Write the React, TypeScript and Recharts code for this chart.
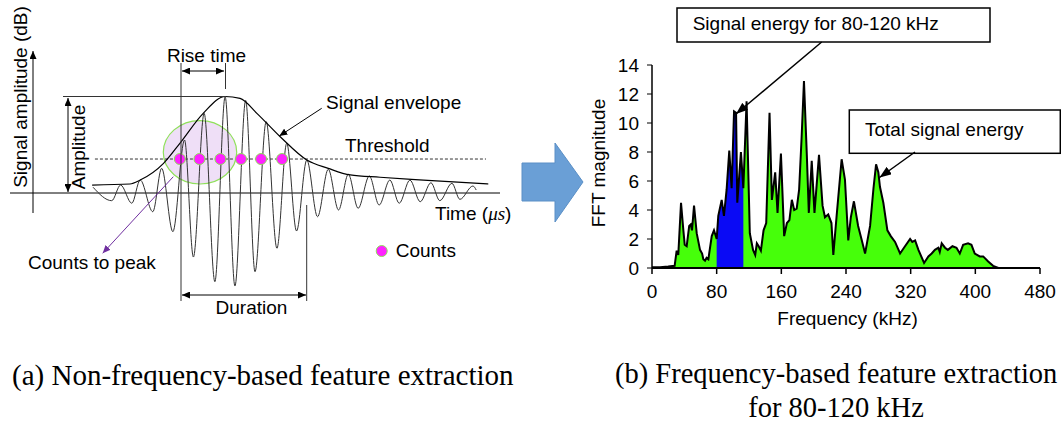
import React from "react";
import {
  ComposedChart,
  Line,
  Area,
  Scatter,
  XAxis,
  YAxis,
  ReferenceLine,
} from "recharts";

const FONT = "'Liberation Sans', Arial, sans-serif";
const SERIF = "'Liberation Serif', 'Times New Roman', serif";

// (a) burst waveform, one value per crest / trough
const waveTime = [
  12.8, 16.8, 18.7, 21.1, 22.9, 25.6, 27.5, 29.9, 32.4, 34.3, 36.6, 38.9, 41.1,
  43.2, 45.5, 47.5, 49.9, 52.2, 54.3, 56.4, 58.6, 60.9, 63.2, 65.4, 67.5, 69.6,
  72.0, 74.1, 76.4, 78.4, 80.7, 82.9, 85.2, 87.1, 89.7, 91.4, 94.2, 94.9,
];
const waveAmp = [
  6, -8, 8.3, -10.7, 13.5, -19.5, 25.7, -40.3, 55.2, -66.7, 83, -92.4, 100.3,
  -96.9, 96.4, -82, 74.3, -57.6, 51.8, -39.6, 34.4, -24.7, 24.7, -17.7, 19.5,
  -15.9, 17.7, -12.5, 13.5, -10.7, 13.5, -9.1, 10.7, -8, 10.1, -6.6, 7.3, 3.1,
];

// signal envelope
const envTime = [12.6, 20.7, 22.9, 27.9, 31.4, 36.4, 41.1, 44.3, 47.9, 52.9, 58.6, 63.2, 67.9, 74.3, 83.6, 97.5];
const envAmp = [8.3, 9.4, 13.5, 30.9, 51.8, 83, 100.5, 98.6, 83, 58.6, 34.4, 25.7, 18.8, 16.4, 13.5, 9.4];

const threshold = 35.4;
const countTime = [31.4, 35.6, 40.1, 44.5, 48.8, 53.3];

// (b) FFT spectrum
const freq = [
  0, 10, 20, 28, 30.5, 32.5, 35.9, 38.8, 40.5, 42.9,
  46, 47.9, 49.5, 52, 55.3, 59.4, 62, 63.5, 65.6, 67.5,
  69.7, 73.9, 76.7, 80, 82, 86.2, 89, 92.3, 95.6, 98.5,
  101.5, 104, 105.5, 110, 113, 117, 121, 125, 127.7, 129.7,
  132, 134.7, 138, 141.3, 145.4, 148.3, 152.4, 155.3, 159.5, 163.5,
  166.9, 170, 173, 175.9, 179, 182, 185, 188, 191.6, 194,
  197.6, 201, 206.6, 211, 214, 218, 222, 224.3, 228.4, 234.6,
  238.7, 242.8, 246, 249.8, 255, 259.6, 263.6, 269.8, 274, 277.2,
  280, 282, 286.2, 291.2, 295.4, 300.7, 306.9, 313, 319.3, 322,
  325.5, 329.6, 336.6, 341.9, 346, 350, 354.2, 356, 358.4, 362.5,
  366, 371.7, 376.7, 380.8, 384.9, 391, 395.2, 399.3, 405.5, 409.7,
  415.9, 422, 428.5, 440, 480,
];
const mag = [
  0.05, 0.05, 0.1, 0.15, 1.2, 0.9, 4.5, 2.6, 1.6, 1.5,
  2.9, 3.0, 2.6, 4.3, 2.4, 1.25, 1.0, 0.6, 0.5, 0.7,
  0.6, 2.2, 2.6, 2.0, 3.6, 4.7, 3.6, 5.4, 8.1, 5.5,
  10.8, 10.7, 4.5, 8.0, 5.5, 11.5, 2.4, 1.25, 0.9, 1.7,
  1.5, 1.2, 2.6, 3.1, 10.7, 4.7, 6.6, 3.8, 7.9, 2.2,
  3.1, 3.3, 4.7, 4.0, 4.1, 5.4, 8.9, 12.9, 7.7, 3.8,
  7.4, 3.8, 7.8, 4.3, 3.5, 3.7, 3.1, 0.9, 3.6, 7.5,
  6.1, 1.9, 3.5, 4.6, 2.9, 1.9, 1.0, 2.9, 5.5, 7.15,
  6.6, 5.6, 4.5, 2.6, 2.2, 1.8, 1.0, 1.5, 2.0, 1.8,
  1.9, 1.25, 0.35, 0.8, 1.0, 1.25, 1.4, 1.1, 1.7, 1.4,
  1.25, 1.5, 1.4, 1.0, 1.6, 1.7, 1.6, 1.0, 0.8, 0.8,
  0.45, 0.15, 0, 0, 0,
];
const bandLo = 80;
const bandHi = 113;
const freqTicks = [0, 80, 160, 240, 320, 400, 480];
const magTicks = [0, 2, 4, 6, 8, 10, 12, 14];

const waveRows = waveTime.map((t, i) => ({ t, a: waveAmp[i] }));
const envRows = envTime.map((t, i) => ({ t, a: envAmp[i] }));
const countRows = countTime.map((t) => ({ t, a: threshold }));
const specRows = freq.map((f, i) => ({
  f,
  total: mag[i],
  band: f >= bandLo && f <= bandHi ? mag[i] : null,
}));

const countDot = (p: any) => (
  <circle cx={p.cx} cy={p.cy} r={5.5} fill="#ff22ff" stroke="#8fe05a" strokeWidth={1} />
);

const txt = { fontFamily: FONT, fontSize: 19, fill: "#000" } as const;

export default function App() {
  return (
    <div
      style={{
        position: "absolute",
        left: 0,
        top: 0,
        width: 1061,
        height: 426,
        background: "#fff",
        overflow: "hidden",
      }}
    >
      {/* under the waveform: highlighted region + block arrow */}
      <svg width={1061} height={426} style={{ position: "absolute", left: 0, top: 0 }}>
        <ellipse cx={200} cy={152.3} rx={36.7} ry={31.7} fill="#efdff7" stroke="#8fe05a" strokeWidth={1.2} />
        <polygon
          points="522,163 555,163 555,143 583,182 555,222 555,201 522,201"
          fill="#6a9fd6"
          stroke="#5a8fc6"
          strokeWidth={1}
        />
      </svg>

      <div style={{ position: "absolute", left: 0, top: 0 }}>
        <ComposedChart width={520} height={330} margin={{ top: 49, right: 20, bottom: 17, left: 10 }}>
          <XAxis dataKey="t" type="number" domain={[-5, 100]} allowDataOverflow hide />
          <YAxis dataKey="a" type="number" domain={[-125, 150]} allowDataOverflow hide />
          <ReferenceLine y={0} stroke="#000" strokeWidth={1} />
          <ReferenceLine
            segment={[
              { x: 13.2, y: threshold },
              { x: 97, y: threshold },
            ]}
            stroke="#333"
            strokeDasharray="3 2"
          />
          <Line data={waveRows} dataKey="a" type="monotone" stroke="#333" strokeWidth={1} dot={false} isAnimationActive={false} />
          <Line data={envRows} dataKey="a" type="monotone" stroke="#000" strokeWidth={1.2} dot={false} isAnimationActive={false} />
          <Scatter data={countRows} dataKey="a" shape={countDot} isAnimationActive={false} />
        </ComposedChart>
      </div>

      <div style={{ position: "absolute", left: 560, top: 0 }}>
        <ComposedChart width={501} height={340} data={specRows} margin={{ top: 65, right: 21, bottom: 42, left: 52 }}>
          <XAxis
            dataKey="f"
            type="number"
            domain={[0, 480]}
            ticks={freqTicks}
            allowDataOverflow
            height={30}
            tickSize={6}
            tickMargin={11}
            axisLine={{ stroke: "#000", strokeWidth: 2 }}
            tickLine={{ stroke: "#000", strokeWidth: 1.5 }}
            tick={{ fill: "#000", fontSize: 19, fontFamily: FONT }}
          />
          <YAxis
            type="number"
            domain={[0, 14]}
            ticks={magTicks}
            allowDataOverflow
            width={40}
            tickSize={5}
            tickMargin={8}
            axisLine={{ stroke: "#000", strokeWidth: 1.5 }}
            tickLine={{ stroke: "#000", strokeWidth: 1 }}
            tick={{ fill: "#000", fontSize: 19, fontFamily: FONT }}
          />
          <Area dataKey="total" type="linear" fill="#46ff0a" fillOpacity={1} stroke="none" isAnimationActive={false} />
          <Area dataKey="band" type="linear" fill="#0a0af5" fillOpacity={1} stroke="none" isAnimationActive={false} />
          <Line dataKey="total" type="linear" stroke="#000" strokeWidth={2} dot={false} isAnimationActive={false} />
        </ComposedChart>
      </div>

      {/* annotations */}
      <svg width={1061} height={426} style={{ position: "absolute", left: 0, top: 0, pointerEvents: "none" }}>
        <defs>
          <marker id="ah" viewBox="0 0 8 7" refX={8} refY={3.5} markerWidth={8} markerHeight={7} markerUnits="userSpaceOnUse" orient="auto-start-reverse">
            <path d="M0,0 L8,3.5 L0,7 z" fill="#000" />
          </marker>
          <marker id="ahPurple" viewBox="0 0 8 7" refX={8} refY={3.5} markerWidth={8} markerHeight={7} markerUnits="userSpaceOnUse" orient="auto">
            <path d="M0,0 L8,3.5 L0,7 z" fill="#7030a0" />
          </marker>
          <marker id="ahBig" viewBox="0 0 12 9" refX={12} refY={4.5} markerWidth={12} markerHeight={9} markerUnits="userSpaceOnUse" orient="auto">
            <path d="M0,0 L12,4.5 L0,9 z" fill="#000" />
          </marker>
        </defs>

        {/* (a) schematic annotations */}
        <line x1={33} y1={213} x2={33} y2={51} stroke="#000" strokeWidth={1} markerEnd="url(#ah)" />
        <text {...txt} transform="rotate(-90 27 97)" x={27} y={97} textAnchor="middle">
          Signal amplitude (dB)
        </text>

        <line x1={63} y1={96.5} x2={226} y2={96.5} stroke="#333" strokeWidth={1} />
        <line x1={68} y1={98} x2={68} y2={192} stroke="#000" strokeWidth={1} markerStart="url(#ah)" markerEnd="url(#ah)" />
        <text {...txt} transform="rotate(-90 85 147)" x={85} y={147} textAnchor="middle">
          Amplitude
        </text>

        <line x1={181} y1={63} x2={181} y2={301} stroke="#333" strokeWidth={1} />
        <line x1={225.5} y1={63} x2={225.5} y2={89} stroke="#333" strokeWidth={1} />
        <line x1={182} y1={71} x2={224} y2={71} stroke="#000" strokeWidth={1} markerStart="url(#ah)" markerEnd="url(#ah)" />
        <text {...txt} x={206.5} y={61.5} textAnchor="middle">
          Rise time
        </text>

        <text {...txt} x={326} y={109}>
          Signal envelope
        </text>
        <line x1={321.7} y1={108.3} x2={279.3} y2={136} stroke="#000" strokeWidth={1} markerEnd="url(#ah)" />
        <text {...txt} x={345} y={151.5}>
          Threshold
        </text>
        <text {...txt} x={435} y={220.3}>
          Time (<tspan fontStyle="italic" fontFamily={SERIF}>μs</tspan>)
        </text>

        <line x1={173.3} y1={176.7} x2={102.7} y2={253.3} stroke="#7030a0" strokeWidth={1} markerEnd="url(#ahPurple)" />
        <text {...txt} x={28} y={268.6}>
          Counts to peak
        </text>

        <line x1={306.7} y1={205} x2={306.7} y2={301} stroke="#333" strokeWidth={1} />
        <line x1={182} y1={295} x2={306} y2={295} stroke="#000" strokeWidth={1} markerStart="url(#ah)" markerEnd="url(#ah)" />
        <text {...txt} x={251.5} y={313.5} textAnchor="middle">
          Duration
        </text>

        <circle cx={381.7} cy={251} r={5.5} fill="#ff22ff" stroke="#8fe05a" strokeWidth={1} />
        <text {...txt} x={395.7} y={256.7}>
          Counts
        </text>

        {/* (b) callouts and axis titles */}
        <rect x={677} y={8} width={313} height={34} fill="#fff" stroke="#000" strokeWidth={1.5} />
        <text {...txt} x={692.7} y={30}>
          Signal energy for 80-120 kHz
        </text>
        <line x1={821.7} y1={42} x2={736} y2={114} stroke="#000" strokeWidth={1.5} markerEnd="url(#ahBig)" />

        <rect x={849.3} y={110} width={211} height={43.3} fill="#fff" stroke="#000" strokeWidth={1.5} />
        <text {...txt} x={865} y={135.5}>
          Total signal energy
        </text>
        <line x1={915} y1={152} x2={879.5} y2={177.5} stroke="#000" strokeWidth={1.5} markerEnd="url(#ahBig)" />

        <text {...txt} transform="rotate(-90 605.3 163)" x={605.3} y={163} textAnchor="middle">
          FFT magnitude
        </text>
        <text {...txt} x={847.5} y={325.3} textAnchor="middle">
          Frequency (kHz)
        </text>

        {/* captions */}
        <text x={12} y={385} fontFamily={SERIF} fontSize={29} fill="#000">
          (a) Non-frequency-based feature extraction
        </text>
        <text x={615} y={383} fontFamily={SERIF} fontSize={28.5} fill="#000">
          (b) Frequency-based feature extraction
        </text>
        <text x={836} y={417} fontFamily={SERIF} fontSize={28.5} fill="#000" textAnchor="middle">
          for 80-120 kHz
        </text>
      </svg>
    </div>
  );
}
